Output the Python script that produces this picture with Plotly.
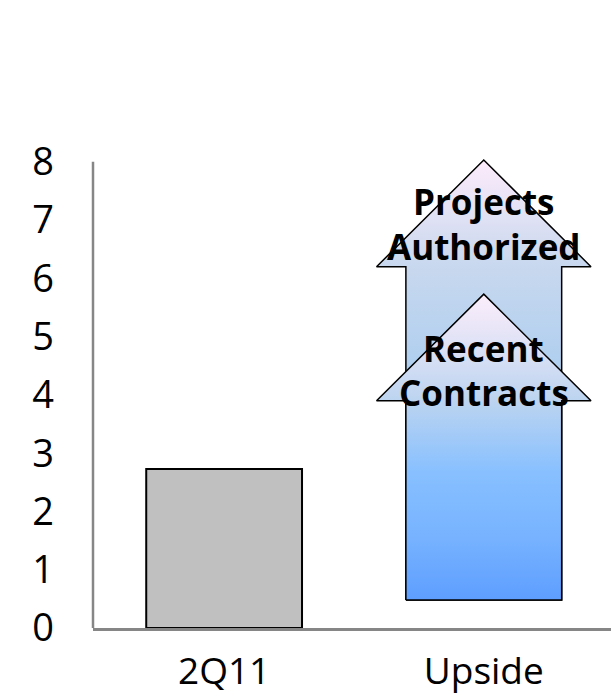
import plotly.graph_objects as go

# ---- data ----
categories = ["2Q11", "Upside"]
bar_values = [2.73]                      # 2Q11 bar
arrow_label_lines = [["Projects", "Authorized"], ["Recent", "Contracts"]]
arrow_label_line_y = [[7.32, 6.54], [4.79, 4.04]]
arrow_base = 0.48
arrow_tips = [8.03, 5.73]
arrow_shoulders = [6.2, 3.9]
y_ticks = [0, 1, 2, 3, 4, 5, 6, 7, 8]

FONT = "Open Sans"
body_hw = 0.3
head_hw = 0.413
xc = 1

grad_outer = [[0, "#5E9EFF"], [0.3, "#80BCFF"], [0.46, "#A8CCF0"],
              [0.76, "#C8D8EE"], [1, "#FDEBFB"]]
grad_inner = [[0, "#5E9EFF"], [0.2, "#76B2FF"], [0.42, "#88C0FF"],
              [0.65, "#BCD4F0"], [1, "#FDEEFB"]]
grads = [grad_outer, grad_inner]

fig = go.Figure()

fig.add_trace(go.Bar(
    x=[0], y=bar_values, width=0.6,
    marker=dict(color="#C0C0C0", line=dict(color="#000000", width=2)),
    hoverinfo="skip", showlegend=False,
))

for tip, sh, grad in zip(arrow_tips, arrow_shoulders, grads):
    xs = [xc - body_hw, xc - body_hw, xc - head_hw, xc, xc + head_hw,
          xc + body_hw, xc + body_hw, xc - body_hw]
    ys = [arrow_base, sh, sh, tip, sh, sh, arrow_base, arrow_base]
    fig.add_trace(go.Scatter(
        x=xs, y=ys, mode="lines", fill="toself",
        line=dict(color="#000000", width=1.5),
        fillgradient=dict(type="vertical", colorscale=grad,
                          start=arrow_base, stop=tip),
        hoverinfo="skip", showlegend=False,
    ))

for lines, ys in zip(arrow_label_lines, arrow_label_line_y):
    for txt, ly in zip(lines, ys):
        fig.add_annotation(
            x=xc, y=ly, text="<b>" + txt + "</b>", showarrow=False,
            font=dict(family=FONT, size=35, color="#000000"),
            xanchor="center", yanchor="middle",
        )

# left axis line (0..8)
fig.add_shape(type="line", xref="paper", yref="y", x0=0, x1=0, y0=0, y1=8,
              line=dict(color="#868686", width=2.5))

fig.update_layout(
    width=613, height=696,
    margin=dict(l=93, r=2, t=156, b=68, autoexpand=False),
    plot_bgcolor="white", paper_bgcolor="white",
    showlegend=False,
    xaxis=dict(
        range=[-0.505, 1.49], tickvals=[0, 1], ticktext=categories,
        showgrid=False, zeroline=False, showline=True,
        linecolor="#868686", linewidth=2.5, ticks="",
        tickfont=dict(family=FONT, size=37, color="#000000"),
        ticklabelstandoff=9, fixedrange=True, automargin=False,
    ),
    yaxis=dict(
        range=[0, 8.1], tickvals=y_ticks,
        showgrid=False, zeroline=False, showline=False, ticks="",
        tickfont=dict(family=FONT, size=38, color="#000000"),
        ticklabelstandoff=38, fixedrange=True, automargin=False,
    ),
)

fig.write_html("out.html", config={"displayModeBar": False})

# remove default page margin so the figure sits at the window's top-left
with open("out.html", "r", encoding="utf-8") as f:
    html = f.read()
html = html.replace("<head>", "<head><style>html,body{margin:0;padding:0;overflow:hidden;}</style>", 1)
with open("out.html", "w", encoding="utf-8") as f:
    f.write(html)
